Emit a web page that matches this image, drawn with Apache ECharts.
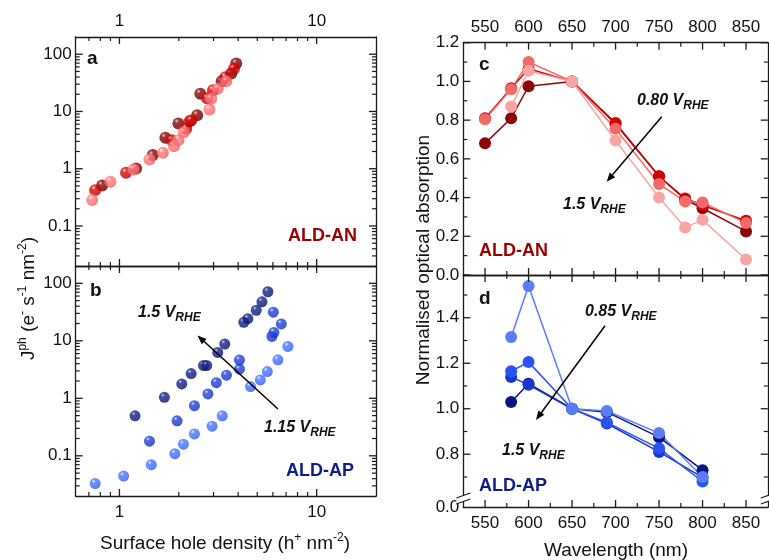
<!DOCTYPE html>
<html><head><meta charset="utf-8">
<script src="https://cdn.jsdelivr.net/npm/echarts@6/dist/echarts.min.js"></script>
<style>html,body{margin:0;padding:0;background:#fff}#c{width:769px;height:560px}</style>
</head><body><div id="c"></div>
<script>
// ---------------- data ----------------
// Panel a: ALD-AN, [surface hole density, Jph]
const anDark  = [[0.817,0.511],[1.215,1.01],[1.476,1.73],[1.71,3.48],[1.99,6.18],[2.48,8.61],[2.57,20.4],[3.30,33.8],[3.69,46],[3.91,68.8]];
const anRed   = [[0.753,0.423],[1.08,0.851],[1.84,3.16],[2.18,4.99],[2.27,6.78],[2.31,6.97],[2.78,17.0],[2.98,23.5],[3.44,39.8],[3.81,55.6]];
const anLight = [[0.727,0.283],[0.90,0.593],[1.18,0.97],[1.42,1.45],[1.66,1.90],[1.89,2.48],[1.99,3.16],[2.12,4.35],[2.86,10.8],[2.92,16.7],[3.15,24.9],[3.48,33.8]];
// Panel b: ALD-AP
const apDark  = [[1.20,0.497],[1.69,1.04],[2.07,1.78],[2.31,2.69],[2.67,3.72],[2.77,3.72],[3.15,6.27],[3.42,8.79],[4.27,21.0],[4.48,24.3],[4.94,34],[5.28,47.6],[5.66,71.3]];
const apMid   = [[1.42,0.18],[1.96,0.406],[2.40,0.743],[2.81,1.19],[3.10,1.87],[3.49,2.52],[4.06,3.21],[4.06,4.62],[5.93,11.9],[6.07,14.0],[6.62,19.7],[6.03,31.4]];
const apLight = [[0.753,0.033],[1.05,0.0444],[1.45,0.070],[1.91,0.109],[2.11,0.159],[2.40,0.24],[2.95,0.328],[3.32,0.497],[4.62,1.60],[5.18,2.09],[5.62,2.92],[6.36,4.67],[7.15,7.98]];
// Panel c: ALD-AN normalised absorption
const wlC    = [550,580,600,650,700,750,780,800,850];
const absAN1 = [0.68,0.81,0.975,1.0,0.78,0.51,0.39,0.345,0.225];
const absAN2 = [0.81,0.965,1.065,1.0,0.785,0.51,0.395,0.36,0.28];
const absAN3 = [0.805,0.96,1.10,1.0,0.755,0.47,0.38,0.375,0.268];
const absAN4 = [null,0.87,1.055,1.0,0.695,0.40,0.245,0.285,0.08];
// Panel d: ALD-AP normalised absorption
const wlD    = [580,600,650,690,750,800];
const absAP1 = [1.03,1.11,1.0,0.985,0.875,0.73];
const absAP2 = [1.14,1.105,1.0,0.935,0.81,0.698];
const absAP3 = [1.165,1.205,1.0,0.94,0.826,0.68];
const absAP4 = [1.315,1.54,1.0,0.99,0.893,0.70];
// tick labels
const xLogLabels = [1, 10];
const yLogLabels = [0.1, 1, 10, 100];
const wlLabels   = [550,600,650,700,750,800,850];
const absLabelsC = [0,0.2,0.4,0.6,0.8,1.0,1.2];
const absLabelsD = [0.8,1.0,1.2,1.4];
const D_MIN = 0.568, D_MAX = 1.588;

// ---------------- helpers ----------------
const FONT = '"Liberation Sans", Arial, sans-serif';
const INK = '#1a1a1a';
const xLogMinor = [0.7,0.8,0.9,2,3,4,5,6,7,8,9];
const yLogMinor = [];
[0.01,0.1,1,10].forEach(d => { for (let k=2;k<=9;k++){ const v=+(k*d).toPrecision(3); if (v>0.021) yLogMinor.push(v);} });
const wlMinor = [575,625,675,725,775,825];
const absMinorC = [0.1,0.3,0.5,0.7,0.9,1.1];
const absMinorD = [0.7,0.9,1.1,1.3,1.5];

const xAxes = [], yAxes = [];
function side(list, gi, type, min, max, pos, labels, fmt, margin) {
  const a = {gridIndex: gi, type, min, max, position: pos, splitLine:{show:false},
    axisLine:{show:true, onZero:false, lineStyle:{color:INK, width:1.3}}, axisTick:{show:false}, axisLabel:{show:false}};
  if (type === 'log') a.logBase = 10;
  if (labels) a.axisLabel = {show:true, customValues:labels.slice(), formatter:fmt, color:'#111', fontSize:17, fontFamily:FONT, margin:margin};
  list.push(a); return list.length - 1;
}
const fLog = v => String(+(+v).toPrecision(3));
const fWl = v => String(Math.round(v));
const f1 = v => (+v).toFixed(1);
const fD = v => (v < 0.6 ? '0.0' : (+v).toFixed(1));

const ax = {};
ax.aX = side(xAxes, 0, 'log', 0.6, 20, 'bottom', null);
side(xAxes, 0, 'log', 0.6, 20, 'top', xLogLabels, fLog, 7);
ax.aY = side(yAxes, 0, 'log', 0.02, 200, 'left', yLogLabels, fLog, 4);
side(yAxes, 0, 'log', 0.02, 200, 'right', null);
ax.bX = side(xAxes, 1, 'log', 0.6, 20, 'bottom', xLogLabels, fLog, 8);
side(xAxes, 1, 'log', 0.6, 20, 'top', null);
ax.bY = side(yAxes, 1, 'log', 0.02, 200, 'left', yLogLabels, fLog, 4);
side(yAxes, 1, 'log', 0.02, 200, 'right', null);
ax.cX = side(xAxes, 2, 'value', 525, 875, 'bottom', null);
side(xAxes, 2, 'value', 525, 875, 'top', wlLabels, fWl, 7);
ax.cY = side(yAxes, 2, 'value', 0, 1.2, 'left', absLabelsC, f1, 4);
side(yAxes, 2, 'value', 0, 1.2, 'right', null);
ax.dX = side(xAxes, 3, 'value', 525, 875, 'bottom', wlLabels, fWl, 8);
side(xAxes, 3, 'value', 525, 875, 'top', null);
ax.dY = side(yAxes, 3, 'value', D_MIN, D_MAX, 'left', [D_MIN].concat(absLabelsD), fD, 4);
side(yAxes, 3, 'value', D_MIN, D_MAX, 'right', null);

function sphere(c0, c1, c2, c3) {
  return {color:{type:'radial', x:0.36, y:0.3, r:0.8, colorStops:[
    {offset:0,color:c0},{offset:0.22,color:c1},{offset:0.7,color:c2},{offset:1,color:c3}]}};
}
function scat(xi, yi, data, style, size) {
  return {type:'scatter', xAxisIndex:xi, yAxisIndex:yi, data, symbolSize:size, itemStyle:style, z:3, silent:true};
}
function ln(xi, yi, xs, ys, color) {
  return {type:'line', xAxisIndex:xi, yAxisIndex:yi, data: xs.map((x,i)=>[x, ys[i]]), symbol:'circle', symbolSize:12,
    showAllSymbol:true, connectNulls:false, lineStyle:{color, width:1.5}, itemStyle:{color}, z:3, silent:true};
}
const series = [
  scat(ax.aX, ax.aY, anDark,  sphere('#f0c0c0','#8a0808','#700000','#400000'), 12),
  scat(ax.aX, ax.aY, anRed,   sphere('#ffd0d0','#dc0a0a','#c80000','#800000'), 12),
  scat(ax.aX, ax.aY, anLight, sphere('#fff0f0','#ff8080','#ff6a6a','#e04c4c'), 12),
  scat(ax.bX, ax.bY, apDark,  sphere('#c0c8f0','#14228a','#0c1a78','#040c44'), 11),
  scat(ax.bX, ax.bY, apMid,   sphere('#d0dcff','#2444dc','#1a38cc','#0c2080'), 11),
  scat(ax.bX, ax.bY, apLight, sphere('#eef2ff','#4a78ff','#3a68ff','#1c44d0'), 11),
  ln(ax.cX, ax.cY, wlC, absAN1, '#8a0606'),
  ln(ax.cX, ax.cY, wlC, absAN2, '#d20202'),
  ln(ax.cX, ax.cY, wlC, absAN3, '#f06a6a'),
  ln(ax.cX, ax.cY, wlC, absAN4, '#f8a4a4'),
  ln(ax.dX, ax.dY, wlD, absAP1, '#0a1682'),
  ln(ax.dX, ax.dY, wlD, absAP2, '#1a36d0'),
  ln(ax.dX, ax.dY, wlD, absAP3, '#2a52f4'),
  ln(ax.dX, ax.dY, wlD, absAP4, '#5c7cf6'),
];

// ---------- text runs (sub/superscripts) ----------
const mctx = document.createElement('canvas').getContext('2d');
function fontStr(p){ return (p.it?'italic ':'') + (p.b?'bold ':'') + p.s + 'px ' + FONT; }
function run(parts, o) {
  const widths = parts.map(p => { mctx.font = fontStr(p); return mctx.measureText(p.t).width; });
  const total = widths.reduce((a,b)=>a+b, 0);
  let cx = o.align === 'center' ? -total/2 : (o.align === 'right' ? -total : 0);
  const children = parts.map((p,i) => {
    const el = {type:'text', x:cx, y:(p.dy||0) - 0.33*p.s,
      style:{text:p.t, font:fontStr(p), fill:o.color||'#111', align:'left', textAlign:'left', verticalAlign:'middle', textVerticalAlign:'middle'}};
    cx += widths[i];
    return el;
  });
  return {type:'group', x:o.x, y:o.y, rotation:o.rotation||0, children, z:100, silent:true};
}
const T = (t, s, extra) => Object.assign({t, s}, extra||{});
function vrhe(x, y, v) {
  return run([T(v+' V', 16, {b:1, it:1}), T('RHE', 12, {b:1, it:1, dy:4})], {x, y});
}
function arrow(x1, y1, x2, y2) {
  const dx = x2-x1, dy = y2-y1, L = Math.hypot(dx, dy), ux = dx/L, uy = dy/L;
  const hl = 9, hw = 3.6;
  const bx = x2 - ux*hl, by = y2 - uy*hl;
  return [
    {type:'line', shape:{x1, y1, x2:bx, y2:by}, style:{stroke:'#000', lineWidth:1.5}, z:100, silent:true},
    {type:'polygon', shape:{points:[[x2,y2],[bx - uy*hw, by + ux*hw],[bx + uy*hw, by - ux*hw]]}, style:{fill:'#000'}, z:100, silent:true}
  ];
}
function breakMark(x, y) {
  return [
    {type:'polygon', shape:{points:[[x-7,y+1],[x+7,y-4],[x+7,y+2],[x-7,y+7]]}, style:{fill:'#fff'}, z:90, silent:true},
    {type:'line', shape:{x1:x-7,y1:y+1,x2:x+7,y2:y-4}, style:{stroke:INK, lineWidth:1.2}, z:91, silent:true},
    {type:'line', shape:{x1:x-7,y1:y+7,x2:x+7,y2:y+2}, style:{stroke:INK, lineWidth:1.2}, z:91, silent:true}
  ];
}

const RED = '#990000', NAVY = '#0d1d8c';
const graphic = [
  run([T('a',19,{b:1})], {x:87, y:65}),
  run([T('b',19,{b:1})], {x:90, y:297}),
  run([T('c',19,{b:1})], {x:479, y:71.5}),
  run([T('d',19,{b:1})], {x:479, y:305}),
  run([T('ALD-AN',18,{b:1})], {x:357, y:242, align:'right', color:RED}),
  run([T('ALD-AP',18,{b:1})], {x:354, y:476.5, align:'right', color:NAVY}),
  run([T('ALD-AN',18,{b:1})], {x:479, y:257, color:RED}),
  run([T('ALD-AP',18,{b:1})], {x:479, y:491.5, color:NAVY}),
  vrhe(138, 318, '1.5'),
  vrhe(264, 432.5, '1.15'),
  vrhe(637, 106, '0.80'),
  vrhe(563, 209.5, '1.5'),
  vrhe(585, 316.5, '0.85'),
  vrhe(502, 456, '1.5'),
  ...arrow(278, 409, 197.5, 335.5),
  ...arrow(661.7, 116.7, 606.7, 181.7),
  ...arrow(605, 325.7, 536, 420),
  run([T('Surface hole density (h',19), T('+',12,{dy:-8}), T(' nm',19), T('-2',12,{dy:-8}), T(')',19)], {x:225, y:550, align:'center'}),
  run([T('Wavelength (nm)',19)], {x:616, y:557.5, align:'center'}),
  run([T('J',19), T('ph',12,{dy:-8}), T(' (e',19), T('-',12,{dy:-8}), T(' s',19), T('-1',12,{dy:-8}), T(' nm',19), T('-2',12,{dy:-8}), T(')',19)],
      {x:35, y:298.5, align:'center', rotation:Math.PI/2}),
  run([T('Normalised optical absorption',19)], {x:430.5, y:260, align:'center', rotation:Math.PI/2}),
];

const GRIDS = [
  {left:75.7, top:37, width:300.3, height:229},
  {left:75.7, top:266, width:300.3, height:230},
  {left:463.3, top:42.7, width:304.5, height:232.3},
  {left:463.3, top:275, width:304.5, height:232}
];
const chart = echarts.init(document.getElementById('c'), null, {renderer:'canvas'});
chart.setOption({animation:false, backgroundColor:'#fff', grid:GRIDS, xAxis:xAxes, yAxis:yAxes, series, graphic});

// ---------- inward tick marks, placed through each axis' own scale ----------
const tickEls = [];
function axisPix(dim, idx, gi, v) {
  let p = NaN;
  try {
    const axis = chart.getModel().getComponent(dim === 'x' ? 'xAxis' : 'yAxis', idx).axis;
    p = Number(axis.toGlobalCoord(axis.dataToCoord(v)));
  } catch (e) {}
  const g = GRIDS[gi];
  const lo = dim === 'x' ? g.left : g.top, hi = lo + (dim === 'x' ? g.width : g.height);
  if (!isFinite(p) || p < lo - 1 || p > hi + 1) {
    const o = (dim === 'x' ? xAxes : yAxes)[idx];
    const f = o.type === 'log' ? Math.log10 : (t => t);
    const t = (f(v) - f(o.min)) / (f(o.max) - f(o.min));
    p = dim === 'x' ? g.left + t * g.width : g.top + g.height - t * g.height;
  }
  return p;
}
function ticks(gi, xi, yi, xMajor, xMinor, yMajor, yMinor) {
  const g = GRIDS[gi], L = g.left, R = g.left + g.width, Tp = g.top, B = g.top + g.height;
  const add = (x1,y1,x2,y2,w) => tickEls.push({type:'line', shape:{x1,y1,x2,y2}, style:{stroke:INK, lineWidth:w}, z:95, silent:true});
  const xs = (vals, len, w) => vals.forEach(v => { const p = axisPix('x', xi, gi, v); add(p, B, p, B-len, w); add(p, Tp, p, Tp+len, w); });
  const ys = (vals, len, w) => vals.forEach(v => { const p = axisPix('y', yi, gi, v); add(L, p, L+len, p, w); add(R, p, R-len, p, w); });
  xs(xMajor, 7, 1.3); xs(xMinor, 4, 1.2); ys(yMajor, 7, 1.3); ys(yMinor, 4, 1.2);
}
ticks(0, ax.aX, ax.aY, xLogLabels, xLogMinor, yLogLabels, yLogMinor);
ticks(1, ax.bX, ax.bY, xLogLabels, xLogMinor, yLogLabels, yLogMinor);
ticks(2, ax.cX, ax.cY, wlLabels, wlMinor, absLabelsC, absMinorC);
ticks(3, ax.dX, ax.dY, wlLabels, wlMinor, absLabelsD, absMinorD);
const gD = GRIDS[3];
const breaks = [...breakMark(gD.left, 497), ...breakMark(gD.left + gD.width, 497)];
chart.setOption({graphic: graphic.concat(tickEls, breaks)});
</script></body></html>
